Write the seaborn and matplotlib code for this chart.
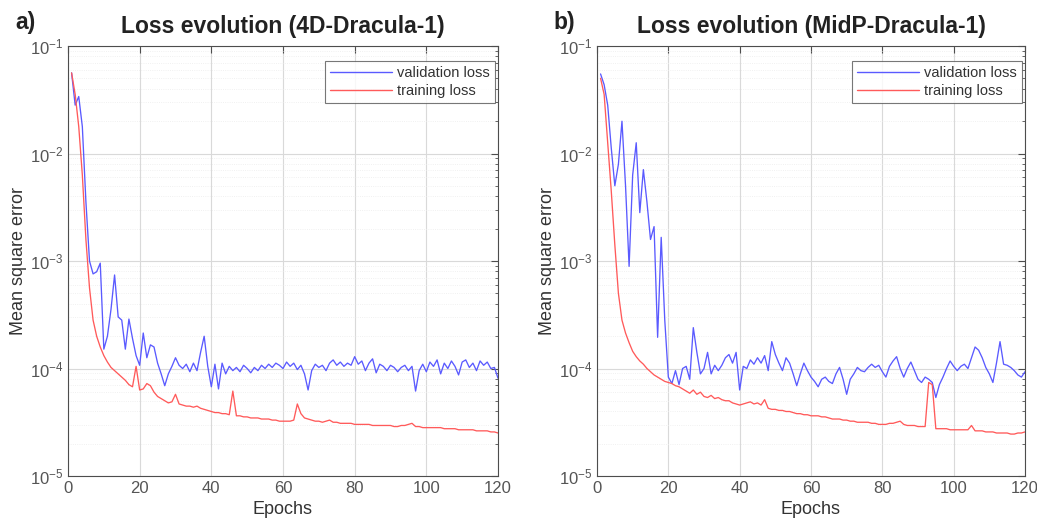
import numpy as np
import pandas as pd
import matplotlib
matplotlib.use("Agg")
import matplotlib.pyplot as plt
import seaborn as sns
from matplotlib.ticker import LogLocator, NullFormatter, FixedLocator
from matplotlib.lines import Line2D

# ---------------- data (log10 of mean square error) ----------------
epochs = list(range(1, 121))

val_4d_log10 = [
    -1.25, -1.55, -1.47, -1.75, -2.45, -3.00, -3.12, -3.10, -3.02, -3.82,
    -3.70, -3.45, -3.13, -3.52, -3.55, -3.82, -3.54, -3.72, -3.88, -3.97,
    -3.67, -3.90, -3.78, -3.80, -3.95, -4.05, -4.16, -4.05, -3.98, -3.90,
    -3.97, -4.00, -3.96, -4.03, -3.95, -4.02, -3.85, -3.70, -3.98, -4.17,
    -3.96, -4.19, -3.95, -4.05, -3.98, -4.02, -3.99, -4.03, -3.97, -4.00,
    -4.04, -3.99, -4.02, -3.97, -4.00, -3.96, -3.99, -3.95, -3.97, -4.00,
    -3.94, -3.98, -3.95, -4.01, -3.97, -4.05, -4.20, -4.02, -3.96, -3.99,
    -3.97, -4.02, -3.95, -3.92, -3.97, -3.94, -3.98, -3.95, -3.97, -3.89,
    -3.96, -3.93, -4.02, -3.95, -3.91, -4.04, -3.96, -3.98, -4.02, -3.97,
    -3.99, -4.03, -3.99, -3.97, -4.02, -3.98, -4.21, -4.02, -3.96, -4.03,
    -3.94, -3.98, -3.92, -4.05, -3.95, -4.00, -3.93, -3.98, -4.06, -3.94,
    -3.92, -3.99, -3.95, -4.02, -3.93, -3.97, -3.94, -4.00, -3.99, -4.09,
]

train_4d_log10 = [
    -1.25, -1.45, -1.75, -2.20, -2.80, -3.25, -3.55, -3.70, -3.80, -3.88,
    -3.94, -3.99, -4.02, -4.05, -4.08, -4.11, -4.15, -4.17, -3.98, -4.20,
    -4.19, -4.14, -4.16, -4.22, -4.26, -4.28, -4.30, -4.32, -4.31, -4.24,
    -4.33, -4.34, -4.35, -4.35, -4.36, -4.35, -4.37, -4.38, -4.39, -4.40,
    -4.41, -4.41, -4.42, -4.42, -4.43, -4.21, -4.44, -4.44, -4.45, -4.45,
    -4.46, -4.46, -4.46, -4.47, -4.47, -4.47, -4.48, -4.48, -4.49, -4.49,
    -4.49, -4.49, -4.48, -4.33, -4.42, -4.46, -4.47, -4.48, -4.49, -4.49,
    -4.50, -4.49, -4.48, -4.50, -4.50, -4.51, -4.51, -4.51, -4.51, -4.52,
    -4.52, -4.52, -4.52, -4.52, -4.53, -4.53, -4.53, -4.53, -4.53, -4.53,
    -4.54, -4.54, -4.53, -4.53, -4.52, -4.51, -4.54, -4.54, -4.55, -4.55,
    -4.55, -4.55, -4.55, -4.55, -4.56, -4.56, -4.56, -4.56, -4.57, -4.57,
    -4.57, -4.57, -4.57, -4.58, -4.58, -4.58, -4.58, -4.59, -4.59, -4.60,
]

val_midp_log10 = [
    -1.26, -1.36, -1.55, -1.95, -2.30, -2.10, -1.70, -2.30, -3.05, -2.20,
    -1.90, -2.55, -2.15, -2.45, -2.80, -2.68, -3.71, -2.78, -3.55, -4.08,
    -4.14, -4.02, -4.15, -4.00, -3.98, -4.10, -3.62, -3.85, -4.05, -4.00,
    -3.85, -4.05, -3.97, -4.02, -3.97, -3.90, -3.87, -3.95, -3.85, -4.20,
    -3.98, -4.00, -3.92, -3.96, -3.90, -3.95, -3.88, -4.02, -3.75, -3.87,
    -3.95, -4.02, -3.90, -3.95, -4.05, -4.16, -4.05, -3.95, -4.02, -4.08,
    -4.12, -4.17, -4.10, -4.08, -4.12, -4.14, -4.05, -3.99, -4.10, -4.24,
    -4.10, -4.05, -3.99, -4.02, -4.03, -3.99, -3.96, -3.99, -3.97, -4.03,
    -4.08, -3.98, -3.93, -3.89, -4.00, -4.08, -4.00, -3.94, -4.02, -4.10,
    -4.13, -4.08, -4.10, -4.13, -4.27, -4.15, -4.08, -4.00, -3.93, -3.98,
    -4.02, -3.98, -3.96, -4.00, -3.90, -3.80, -3.83, -3.90, -3.99, -4.05,
    -4.13, -3.95, -3.75, -3.96, -3.97, -3.99, -4.02, -4.06, -4.08, -4.03,
]

train_midp_log10 = [
    -1.30, -1.45, -1.90, -2.35, -2.85, -3.30, -3.55, -3.67, -3.76, -3.84,
    -3.89, -3.93, -3.96, -4.00, -4.03, -4.06, -4.08, -4.10, -4.12, -4.13,
    -4.14, -4.16, -4.17, -4.19, -4.21, -4.23, -4.20, -4.24, -4.22, -4.26,
    -4.27, -4.25, -4.28, -4.27, -4.29, -4.30, -4.30, -4.32, -4.33, -4.34,
    -4.33, -4.32, -4.31, -4.33, -4.32, -4.34, -4.29, -4.37, -4.38, -4.38,
    -4.39, -4.39, -4.40, -4.40, -4.41, -4.42, -4.42, -4.43, -4.43, -4.44,
    -4.44, -4.44, -4.45, -4.45, -4.46, -4.47, -4.47, -4.47, -4.48, -4.48,
    -4.49, -4.49, -4.50, -4.50, -4.50, -4.50, -4.51, -4.51, -4.52, -4.52,
    -4.52, -4.51, -4.51, -4.50, -4.49, -4.52, -4.53, -4.53, -4.53, -4.54,
    -4.54, -4.54, -4.13, -4.15, -4.56, -4.56, -4.56, -4.56, -4.57, -4.57,
    -4.57, -4.57, -4.57, -4.57, -4.53, -4.58, -4.58, -4.58, -4.59, -4.59,
    -4.59, -4.60, -4.60, -4.60, -4.60, -4.61, -4.61, -4.60, -4.60, -4.59,
]

panel_letters = ["a)", "b)"]
titles = ["Loss evolution (4D-Dracula-1)", "Loss evolution (MidP-Dracula-1)"]
series_names = ["validation loss", "training loss"]
x_ticks = [0, 20, 40, 60, 80, 100, 120]

# ---------------- styling ----------------
sns.set_style("white")
plt.rcParams["font.family"] = ["Liberation Sans", "DejaVu Sans"]
plt.rcParams["mathtext.fontset"] = "custom"
plt.rcParams["mathtext.rm"] = "Liberation Sans"

blue = "#5a5aff"
red = "#ff5a5a"
axis_gray = "#4d4d4d"
tick_gray = "#555555"

fig = plt.figure(figsize=(10.37, 5.30), dpi=100)

W, H = 1037, 530
boxes = [
    [68 / W, (H - 476) / H, 430 / W, 430 / H],
    [597 / W, (H - 476) / H, 428 / W, 430 / H],
]

datasets = [
    (val_4d_log10, train_4d_log10),
    (val_midp_log10, train_midp_log10),
]

for i, (box, (val_l, tr_l)) in enumerate(zip(boxes, datasets)):
    ax = fig.add_axes(box)
    df = pd.DataFrame({
        "Epochs": epochs * 2,
        "mse": list(10.0 ** np.array(val_l)) + list(10.0 ** np.array(tr_l)),
        "series": [series_names[0]] * len(epochs) + [series_names[1]] * len(epochs),
    })
    sns.lineplot(data=df, x="Epochs", y="mse", hue="series",
                 palette={series_names[0]: blue, series_names[1]: red},
                 linewidth=0.95, ax=ax, legend=False)
    ax.set_yscale("log")
    ax.set_xlim(0, 120)
    ax.set_ylim(1e-5, 1e-1)
    ax.xaxis.set_major_locator(FixedLocator(x_ticks))
    ax.yaxis.set_major_locator(LogLocator(base=10, numticks=10))
    ax.yaxis.set_minor_locator(LogLocator(base=10, subs=np.arange(2, 10), numticks=20))
    ax.yaxis.set_minor_formatter(NullFormatter())

    ax.grid(True, which="major", color="#d9d9d9", linewidth=0.8)
    ax.grid(True, which="minor", axis="y", color="#ececec", linewidth=0.6, linestyle=":")
    ax.set_axisbelow(True)

    for sp in ax.spines.values():
        sp.set_color(axis_gray)
        sp.set_linewidth(0.8)
    ax.tick_params(which="both", direction="in", top=True, right=True,
                   colors=axis_gray, labelcolor=tick_gray, labelsize=12)
    ax.tick_params(which="major", length=5)
    ax.tick_params(which="minor", length=2.5)

    ax.set_xlabel("Epochs", fontsize=13, color="#333333", labelpad=4)
    ax.set_ylabel("Mean square error", fontsize=13, color="#333333", labelpad=2)
    ax.set_title(titles[i], fontsize=16.5, fontweight="bold", color="#222222", pad=9)

    handles = [Line2D([], [], color=blue, lw=1.0), Line2D([], [], color=red, lw=1.0)]
    leg = ax.legend(handles, series_names, loc="upper right",
                    bbox_to_anchor=(0.992, 0.965), fontsize=10.5,
                    frameon=True, fancybox=False, edgecolor="#555555",
                    handlelength=4.3, handletextpad=0.3, borderpad=0.35,
                    labelspacing=0.25, borderaxespad=0.0)
    leg.get_frame().set_linewidth(0.8)
    for t in leg.get_texts():
        t.set_color("#333333")

    x_letter = 15 / W if i == 0 else 553 / W
    fig.text(x_letter, (H - 22) / H, panel_letters[i], fontsize=16.5,
             fontweight="bold", color="#222222", va="center", ha="left")

fig.savefig("out.png", dpi=100)
